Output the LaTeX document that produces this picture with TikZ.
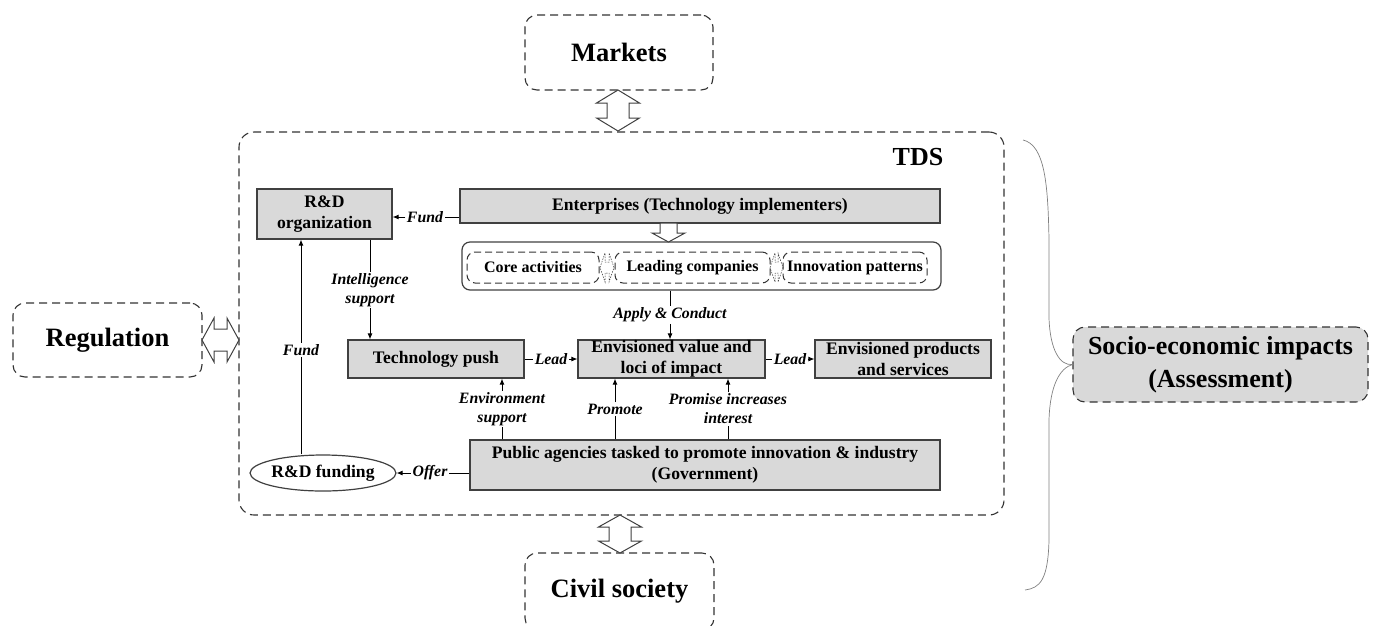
\documentclass[tikz,border=0pt]{standalone}
\usepackage{fontspec}
\setmainfont{Liberation Serif}
\usetikzlibrary{shapes.geometric,arrows.meta}
\definecolor{boxfill}{HTML}{D9D9D9}
\definecolor{boxline}{HTML}{404040}
\definecolor{dline}{HTML}{333333}
\begin{document}
\begin{tikzpicture}[x=1pt,y=-1pt,
  box/.style={draw=boxline, fill=boxfill, line width=1.2pt, inner sep=0pt, align=center, font=\bfseries\fontsize{17.6}{21}\selectfont},
  outer/.style={draw=dline, dash pattern=on 8pt off 5pt, line width=1.1pt, rounded corners=12pt, align=center, font=\bfseries\fontsize{26.5}{30}\selectfont, inner sep=0pt},
  innerbox/.style={draw=dline, dash pattern=on 7pt off 4pt, line width=1pt, rounded corners=8pt, font=\bfseries\fontsize{16}{18}\selectfont, inner sep=0pt},
  lab/.style={font=\bfseries\itshape\fontsize{15.8}{19}\selectfont, inner sep=1.5pt, align=center},
  arr/.style={-{Latex[length=6pt,width=5pt]}, line width=0.9pt, draw=black},
  ln/.style={line width=0.9pt, draw=black},
  hollow/.style={draw=boxline, line width=1pt, fill=white, line join=miter},
  tinyarr/.style={draw=dline, line width=0.5pt, dash pattern=on 1.5pt off 1.2pt}
]
\path[use as bounding box, clip] (0,0) rectangle (1375,625);

% outer frame
\node[draw=dline, dash pattern=on 8pt off 5pt, line width=1.1pt, rounded corners=15pt, minimum width=765pt, minimum height=383pt, inner sep=0pt] (tds) at (621.5,323.5) {};
\node[font=\bfseries\fontsize{26}{30}\selectfont, inner sep=0pt] (tdsl) at (918,157) {TDS};

% surrounding
\node[outer, minimum width=188pt, minimum height=75pt] (mk) at (619,52.5) {Markets};
\node[outer, minimum width=189pt, minimum height=74pt] (reg) at (107.5,340) {Regulation};
\node[outer, minimum width=189pt, minimum height=77pt] (cs) at (619.5,591.5) {Civil society};
\node[outer, fill=boxfill, minimum width=295pt, minimum height=75pt, font=\bfseries\fontsize{26}{33}\selectfont] (se) at (1220.5,364.5) {Socio-economic impacts\\(Assessment)};

% double arrows
\draw[hollow] (618,90) -- (639.5,103) -- (629,103) -- (629,118) -- (639.5,118) -- (618,131) -- (596.5,118) -- (607,118) -- (607,103) -- (596.5,103) -- cycle;
\draw[hollow] (620,515) -- (641.5,527) -- (631,527) -- (631,541) -- (641.5,541) -- (620,553) -- (598.5,541) -- (609,541) -- (609,527) -- (598.5,527) -- cycle;
\draw[hollow] (202,340) -- (214,318) -- (214,329) -- (227,329) -- (227,318) -- (239,340) -- (227,362) -- (227,351) -- (214,351) -- (214,362) -- cycle;

% inner nodes
\node[box, minimum width=135pt, minimum height=50pt] (rd) at (324.5,214) {R\&D\\organization};
\node[box, minimum width=480pt, minimum height=34pt] (ent) at (700,206) {Enterprises (Technology implementers)};
\node[draw=boxline, line width=1.2pt, rounded corners=8pt, minimum width=479pt, minimum height=48pt, inner sep=0pt] (grp) at (701.5,266) {};
\node[innerbox, minimum width=132pt, minimum height=31pt] (core) at (533,267.5) {Core activities};
\node[innerbox, minimum width=155pt, minimum height=31pt] (lead) at (692.5,267.5) {Leading companies};
\node[innerbox, minimum width=144pt, minimum height=31pt] (innov) at (855,267.5) {Innovation patterns};
\node[box, minimum width=176pt, minimum height=38pt] (tp) at (436,359) {Technology push};
\node[box, minimum width=187pt, minimum height=38pt] (ev) at (671.5,359) {Envisioned value and\\loci of impact};
\node[box, minimum width=176pt, minimum height=38pt] (ep) at (903,359) {Envisioned products\\and services};
\node[box, minimum width=470pt, minimum height=50pt] (pa) at (705,465) {Public agencies tasked to promote innovation \& industry\\(Government)};
\node[draw=boxline, line width=1.2pt, ellipse, minimum width=129pt, minimum height=36pt, inner sep=0pt, font=\bfseries\fontsize{17.6}{21}\selectfont] (fe) at (323,473) {R\&D funding};

% enterprises -> group hollow arrow
\draw[hollow] (660,223) -- (677,223) -- (677,233) -- (685,233) -- (668.5,242) -- (652,233) -- (660,233) -- cycle;

% tiny dashed double arrows between inner boxes
\draw[tinyarr] (600,267.5) -- (605,253) -- (605,262) -- (609,262) -- (609,253) -- (614,267.5) -- (609,282) -- (609,273) -- (605,273) -- (605,282) -- cycle;
\draw[tinyarr] (770,267.5) -- (775,253) -- (775,262) -- (778,262) -- (778,253) -- (783,267.5) -- (778,282) -- (778,273) -- (775,273) -- (775,282) -- cycle;

% labels
\node[lab] (lf1) at (425,217) {Fund};
\node[lab] (lis) at (370,290) {Intelligence\\support};
\node[lab] (lf2) at (301,350) {Fund};
\node[lab] (ll1) at (551,359) {Lead};
\node[lab] (ll2) at (790,359) {Lead};
\node[lab] (lac) at (670,315) {Apply \& Conduct};
\node[lab] (les) at (502,409) {Environment\\support};
\node[lab] (lpr) at (615,409) {Promote};
\node[lab] (lpi) at (728,409) {Promise increases\\interest};
\node[lab] (lof) at (430,473) {Offer};

% connectors
\draw[ln] (ent.west |- lf1) -- (lf1.east);
\draw[arr] (lf1.west) -- (rd.east |- lf1);
\draw[ln] (rd.south -| lis) -- (lis.north);
\draw[arr] (lis.south) -- (tp.north -| lis);
\draw[ln] (fe.north -| lf2) -- (lf2.south);
\draw[arr] (lf2.north) -- (rd.south -| lf2);
\draw[ln] (tp.east) -- (ll1.west);
\draw[arr] (ll1.east) -- (ev.west);
\draw[ln] (ev.east) -- (ll2.west);
\draw[arr] (ll2.east) -- (ep.west);
\draw[ln] (grp.south -| lac) -- (lac.north);
\draw[arr] (lac.south) -- (ev.north -| lac);
\draw[ln] (pa.north -| les) -- (les.south);
\draw[arr] (les.north) -- (tp.south -| les);
\draw[ln] (pa.north -| lpr) -- (lpr.south);
\draw[arr] (lpr.north) -- (ev.south -| lpr);
\draw[ln] (pa.north -| lpi) -- (lpi.south);
\draw[arr] (lpi.north) -- (ev.south -| lpi);
\draw[ln] (pa.west |- lof) -- (lof.east);
\draw[arr] (lof.west) -- (fe.east);

% brace
\coordinate (btop) at (1023,140);
\coordinate (bbot) at (1025,590);
\draw[draw=gray, line width=0.7pt] (btop) .. controls (1045,145) and (1048,185) .. (1049,240) -- (1049,318) .. controls (1050,350) and (1060,366) .. (se.west) .. controls (1060,368) and (1050,385) .. (1049,420) -- (1049,540) .. controls (1048,580) and (1040,588) .. (bbot);
\end{tikzpicture}
\end{document}
